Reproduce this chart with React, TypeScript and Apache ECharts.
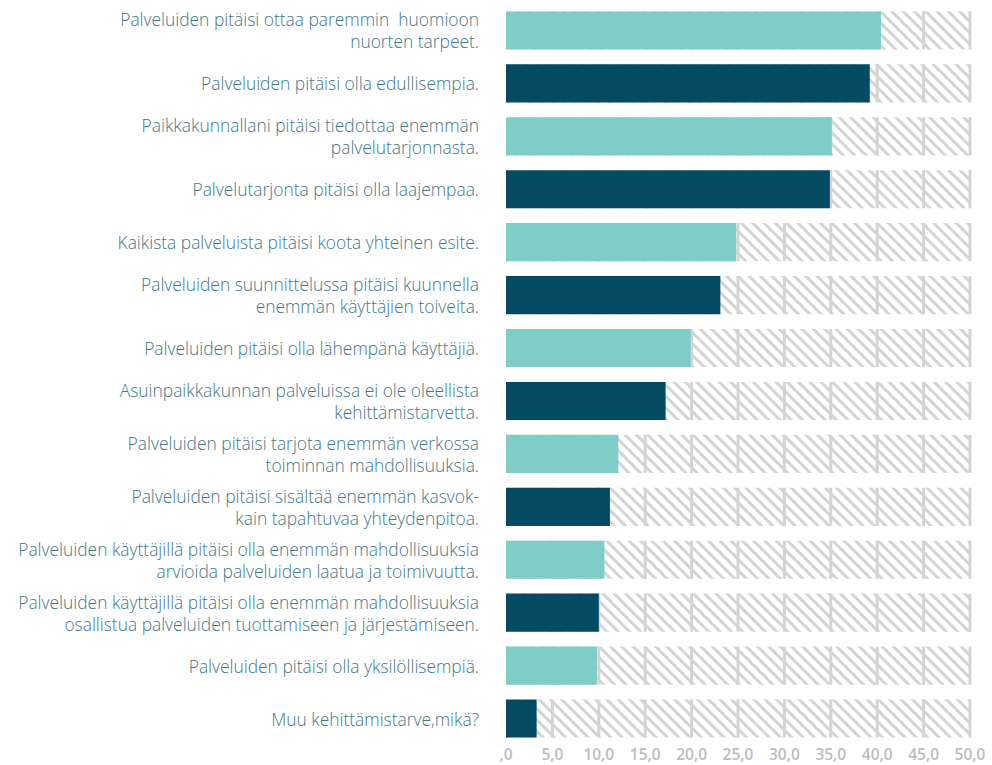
import React, { useEffect, useRef } from "react";
import * as echarts from "echarts";

const categories = [
  "Palveluiden pitäisi ottaa paremmin  huomioon\nnuorten tarpeet.",
  "Palveluiden pitäisi olla edullisempia.",
  "Paikkakunnallani pitäisi tiedottaa enemmän\npalvelutarjonnasta.",
  "Palvelutarjonta pitäisi olla laajempaa.",
  "Kaikista palveluista pitäisi koota yhteinen esite.",
  "Palveluiden suunnittelussa pitäisi kuunnella\nenemmän käyttäjien toiveita.",
  "Palveluiden pitäisi olla lähempänä käyttäjiä.",
  "Asuinpaikkakunnan palveluissa ei ole oleellista\nkehittämistarvetta.",
  "Palveluiden pitäisi tarjota enemmän verkossa\ntoiminnan mahdollisuuksia.",
  "Palveluiden pitäisi sisältää enemmän kasvok-\nkain tapahtuvaa yhteydenpitoa.",
  "Palveluiden käyttäjillä pitäisi olla enemmän mahdollisuuksia\narvioida palveluiden laatua ja toimivuutta.",
  "Palveluiden käyttäjillä pitäisi olla enemmän mahdollisuuksia\nosallistua palveluiden tuottamiseen ja järjestämiseen.",
  "Palveluiden pitäisi olla yksilöllisempiä.",
  "Muu kehittämistarve,mikä?",
];

const values = [40.4, 39.2, 35.1, 34.9, 24.8, 23.1, 19.9, 17.2, 12.1, 11.2, 10.6, 10.0, 9.8, 3.3];

const axisMax = 50;
const tickValues = [5, 10, 15, 20, 25, 30, 35, 40, 45, 50];

const LIGHT = "#7ECDC7";
const DARK = "#024B63";
const HATCH = "#D4D4D4";

export default function App() {
  const ref = useRef<HTMLDivElement>(null);
  useEffect(() => {
    document.body.style.margin = "0";
    if (!ref.current) return;
    const chart = echarts.init(ref.current, undefined, { renderer: "svg" });
    const barRatio = 0.72;
    chart.setOption({
      animation: false,
      grid: { left: 506, right: 22, top: 4, bottom: 20, containLabel: false },
      xAxis: {
        type: "value",
        min: 0,
        max: axisMax,
        interval: 5,
        axisLine: { show: false },
        axisTick: { show: false },
        splitLine: { show: false },
        axisLabel: {
          color: "#BDBDBD",
          fontFamily: "Open Sans",
          fontSize: 15.5,
          lineHeight: 15,
          fontWeight: 600,
          margin: 1,
          formatter: (v: number) => (v === 0 ? ",0" : v.toFixed(1).replace(".", ",")),
        },
      },
      yAxis: {
        type: "category",
        inverse: true,
        data: categories,
        axisLine: { show: false },
        axisTick: { show: false },
        axisLabel: {
          color: "#3F7888",
          fontFamily: "Open Sans",
          fontWeight: 300,
          fontSize: 17.4,
          lineHeight: 22,
          margin: 27,
          align: "right",
        },
      },
      series: [
        {
          type: "bar",
          data: categories.map(() => axisMax),
          barWidth: "72%",
          silent: true,
          z: 1,
          itemStyle: {
            color: "#FFFFFF",
            decal: {
              symbol: "rect",
              symbolSize: 1,
              color: HATCH,
              backgroundColor: "#FFFFFF",
              dashArrayX: [1, 0],
              dashArrayY: [3, 5],
              rotation: Math.PI / 4,
            },
          },
        },
        {
          type: "custom",
          z: 2,
          silent: true,
          data: categories.map((_, i) => [0, i]),
          encode: { x: 0, y: 1 },
          renderItem: (params: any, api: any) => {
            const idx = api.value(1);
            const band = api.size([0, 1])[1];
            const h = band * barRatio;
            const children = tickValues.map((t) => {
              const p = api.coord([t, idx]);
              return {
                type: "line",
                shape: { x1: p[0], y1: p[1] - h / 2, x2: p[0], y2: p[1] + h / 2 },
                style: { stroke: HATCH, lineWidth: 3 },
              };
            });
            return { type: "group", children };
          },
        },
        {
          type: "bar",
          data: values.map((v, i) => ({ value: v, itemStyle: { color: i % 2 === 0 ? LIGHT : DARK } })),
          barWidth: "72%",
          barGap: "-100%",
          z: 3,
        },
      ],
    });
    return () => chart.dispose();
  }, []);
  return <div ref={ref} style={{ width: 992, height: 765 }} />;
}
